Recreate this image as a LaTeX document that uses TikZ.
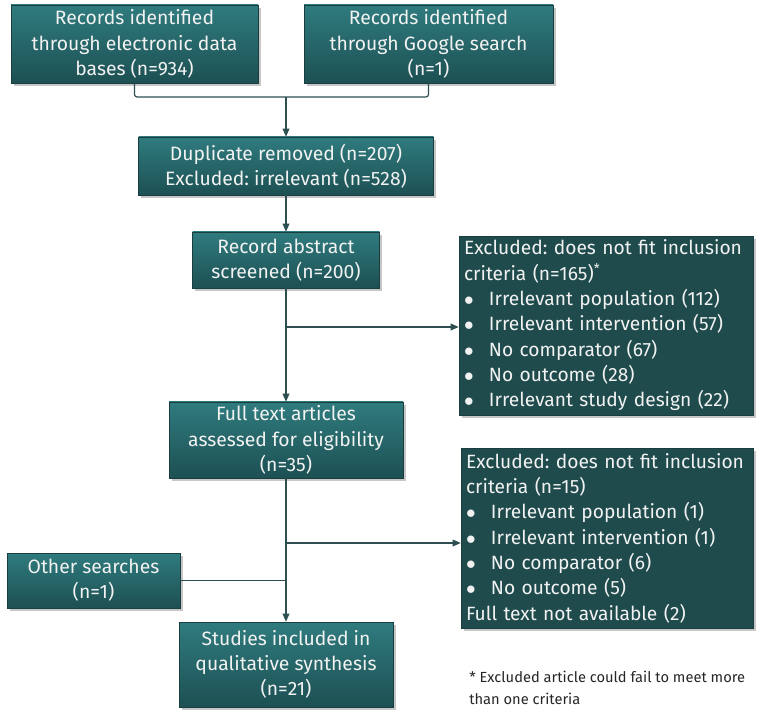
\documentclass[tikz,border=0pt]{standalone}
\usepackage{fontspec}
\setmainfont{Fira Sans}
\frenchspacing
\hyphenpenalty=10000
\usetikzlibrary{shadows,arrows.meta}

\definecolor{tealTop}{HTML}{2F7B7E}
\definecolor{tealBottom}{HTML}{1D5053}
\definecolor{tealDark}{HTML}{1F4B4D}
\definecolor{tealEdge}{HTML}{1A3D3F}
\definecolor{flowLine}{HTML}{2E4F51}
\definecolor{boxText}{HTML}{F2F2F2}

\def \bul {\makebox[1.3em][l]{$\bullet$}}

\tikzset{
  flowbox/.style={draw=tealEdge, top color=tealTop, bottom color=tealBottom,
    text=boxText, align=center, inner sep=0pt, font=\fontsize{14.5}{19}\selectfont,
    drop shadow={shadow xshift=2pt, shadow yshift=-2pt, opacity=0.45}},
  exclbox/.style={draw=tealEdge, fill=tealDark, text=boxText, align=left,
    inner sep=0pt, font=\fontsize{14.4}{19}\selectfont,
    drop shadow={shadow xshift=2pt, shadow yshift=-2pt, opacity=0.45}},
  flow/.style={draw=flowLine, line width=0.9pt, -{Triangle[length=6pt, width=5pt]}},
  joint/.style={draw=flowLine, line width=0.9pt, rounded corners=2pt}
}

\begin{document}
\begin{tikzpicture}[x=0.75pt, y=-0.75pt]
  \useasboundingbox (0,0) rectangle (761,720);

  \node[flowbox, minimum width=247*0.75pt, minimum height=78*0.75pt] (dbRec) at (134.5,44)
    {Records identified\\through electronic data\\bases (n=934)};
  \node[flowbox, minimum width=249*0.75pt, minimum height=78*0.75pt] (googleRec) at (428.5,44)
    {Records identified\\through Google search\\(n=1)};
  \node[flowbox, minimum width=295*0.75pt, minimum height=58*0.75pt] (dupRem) at (286,166)
    {Duplicate removed (n=207)\\Excluded: irrelevant (n=528)};
  \node[flowbox, minimum width=187*0.75pt, minimum height=56*0.75pt] (absScr) at (286,260)
    {Record abstract\\screened (n=200)};
  \node[exclbox, minimum width=294*0.75pt, minimum height=179*0.75pt, text width=284*0.75pt] (absExcl) at (606,325.5)
    {Excluded: does not fit inclusion\\criteria (n=165)\textsuperscript{*}\\
     \bul Irrelevant population (112)\\\bul Irrelevant intervention (57)\\
     \bul No comparator (67)\\\bul No outcome (28)\\\bul Irrelevant study design (22)};
  \node[flowbox, minimum width=234*0.75pt, minimum height=76*0.75pt] (fullText) at (286,440)
    {Full text articles\\assessed for eligibility\\(n=35)};
  \node[exclbox, minimum width=292*0.75pt, minimum height=180*0.75pt, text width=282*0.75pt] (fullExcl) at (607,538)
    {Excluded: does not fit inclusion\\criteria (n=15)\\
     \bul Irrelevant population (1)\\\bul Irrelevant intervention (1)\\
     \bul No comparator (6)\\\bul No outcome (5)\\Full text not available (2)};
  \node[flowbox, minimum width=173*0.75pt, minimum height=55*0.75pt] (otherSearch) at (93.5,580.5)
    {Other searches\\(n=1)};
  \node[flowbox, minimum width=214*0.75pt, minimum height=85*0.75pt] (included) at (286,664.5)
    {Studies included in\\qualitative synthesis\\(n=21)};
  \node[anchor=north west, align=left, inner sep=0pt, text=black!85,
    font=\fontsize{11}{16.5}\selectfont] (note) at (469,671)
    {* Excluded article could fail to meet more\\than one criteria};

  % connectors
  \coordinate (merge) at (286,97);
  \coordinate (split1) at (286,327);
  \coordinate (split2) at (286,543);
  \draw[joint] (dbRec.south) |- (merge) -| (googleRec.south);
  \draw[flow] (merge) -- (dupRem.north);
  \draw[flow] (dupRem) -- (absScr);
  \draw[flow] (absScr) -- (fullText);
  \draw[flow] (split1) -- (split1 -| absExcl.west);
  \draw[flow] (fullText) -- (included);
  \draw[flow] (split2) -- (split2 -| fullExcl.west);
  \draw[joint] (otherSearch.east) -- (otherSearch.east -| included.north);
\end{tikzpicture}
\end{document}
